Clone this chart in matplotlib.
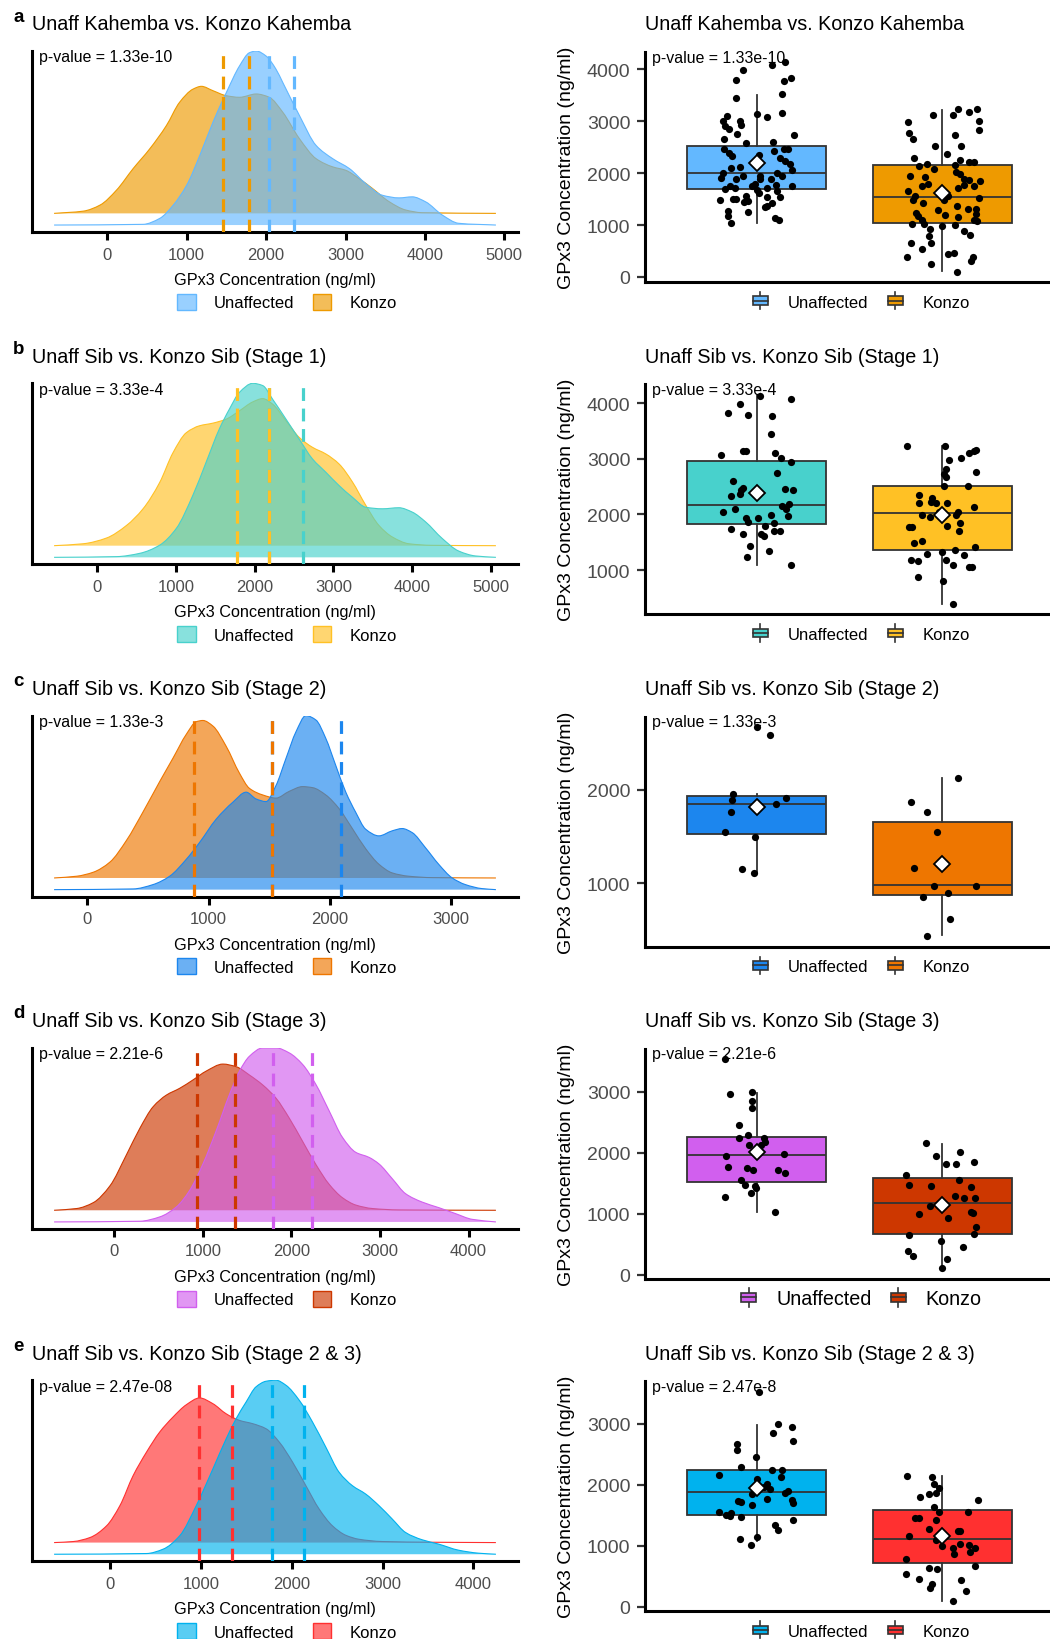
import numpy as np
import matplotlib
matplotlib.use('Agg')
import matplotlib.pyplot as plt
from matplotlib.patches import Patch, Rectangle, PathPatch
from matplotlib.path import Path
from matplotlib.lines import Line2D
from matplotlib.legend_handler import HandlerBase
from matplotlib.ticker import MultipleLocator

plt.rcParams['font.family'] = ['Liberation Sans', 'DejaVu Sans']

# ---------------- data ----------------
titles = ['Unaff Kahemba vs. Konzo Kahemba',
          'Unaff Sib vs. Konzo Sib (Stage 1)',
          'Unaff Sib vs. Konzo Sib (Stage 2)',
          'Unaff Sib vs. Konzo Sib (Stage 3)',
          'Unaff Sib vs. Konzo Sib (Stage 2 & 3)']
letters = ['a', 'b', 'c', 'd', 'e']
pval_left = ['p-value = 1.33e-10', 'p-value = 3.33e-4', 'p-value = 1.33e-3',
             'p-value = 2.21e-6', 'p-value = 2.47e-08']
pval_right = ['p-value = 1.33e-10', 'p-value = 3.33e-4', 'p-value = 1.33e-3',
              'p-value = 2.21e-6', 'p-value = 2.47e-8']
groups = ['Unaffected', 'Konzo']
unaff_colors = ['#63B8FF', '#48D1CC', '#1C86EE', '#D15FEE', '#00B2EE']
konzo_colors = ['#EE9A00', '#FFC125', '#EE7600', '#CD3700', '#FF3030']

# density curves (scaled density, tallest peak = 1)
a_unaff_x = [-670, 450, 660, 830, 1000, 1165, 1330, 1500, 1665, 1790, 1875, 2000, 2125, 2210, 2420,
             2630, 2840, 3050, 3255, 3465, 3675, 3840, 4010, 4220, 4425, 4894]
a_unaff_h = [0, 0.004, 0.038, 0.114, 0.229, 0.40, 0.59, 0.762, 0.914, 0.99, 1.0, 0.971, 0.895, 0.819,
             0.629, 0.457, 0.381, 0.324, 0.238, 0.171, 0.156, 0.162, 0.133, 0.057, 0.01, 0]
a_konzo_x = [-670, -300, -90, 115, 325, 535, 745, 910, 1080, 1185, 1330, 1500, 1665, 1875, 2040, 2210,
             2420, 2630, 2840, 3000, 3170, 3340, 3550, 3760, 3965, 4894]
a_konzo_h = [0, 0.013, 0.048, 0.133, 0.257, 0.371, 0.505, 0.638, 0.714, 0.73, 0.705, 0.676, 0.667, 0.686,
             0.667, 0.581, 0.429, 0.314, 0.267, 0.248, 0.2, 0.143, 0.067, 0.019, 0.004, 0]

b_unaff_x = [-548, 245, 540, 793, 1004, 1215, 1384, 1553, 1680, 1806, 1975, 2101, 2228, 2397, 2565, 2734,
             2903, 3072, 3241, 3409, 3620, 3831, 4000, 4169, 4380, 4591, 4802, 5063]
b_unaff_h = [0, 0.004, 0.023, 0.07, 0.166, 0.357, 0.548, 0.74, 0.853, 0.948, 1.0, 0.987, 0.908, 0.794,
             0.679, 0.565, 0.489, 0.412, 0.345, 0.288, 0.279, 0.285, 0.26, 0.204, 0.109, 0.036, 0.008, 0]
b_konzo_x = [-548, -177, 118, 371, 582, 793, 962, 1131, 1300, 1468, 1637, 1806, 1975, 2101, 2228, 2397,
             2565, 2734, 2903, 3072, 3241, 3409, 3578, 3747, 3958, 4253, 5063]
b_konzo_h = [0, 0.011, 0.044, 0.116, 0.212, 0.363, 0.534, 0.649, 0.689, 0.704, 0.727, 0.775, 0.826, 0.845,
             0.813, 0.718, 0.622, 0.565, 0.527, 0.469, 0.366, 0.233, 0.116, 0.05, 0.011, 0.002, 0]

c_unaff_x = [-274, 378, 542, 679, 816, 926, 1063, 1200, 1310, 1392, 1474, 1556, 1638, 1721, 1803, 1885,
             1967, 2049, 2132, 2214, 2296, 2405, 2515, 2597, 2679, 2789, 2899, 3008, 3118, 3255, 3370]
c_unaff_h = [0, 0.004, 0.029, 0.077, 0.174, 0.271, 0.405, 0.502, 0.56, 0.521, 0.506, 0.598, 0.753, 0.907,
             1.0, 0.975, 0.869, 0.714, 0.56, 0.444, 0.347, 0.309, 0.338, 0.351, 0.328, 0.241, 0.145,
             0.068, 0.029, 0.006, 0]
c_konzo_x = [-274, -88, 49, 186, 323, 460, 597, 707, 816, 899, 953, 1036, 1145, 1255, 1337, 1447, 1556,
             1666, 1775, 1858, 1967, 2077, 2186, 2296, 2405, 2515, 2652, 2844, 3370]
c_konzo_h = [0, 0.01, 0.033, 0.091, 0.216, 0.38, 0.554, 0.689, 0.825, 0.898, 0.905, 0.873, 0.757, 0.602,
             0.515, 0.477, 0.459, 0.498, 0.525, 0.519, 0.477, 0.398, 0.284, 0.168, 0.079, 0.029, 0.01,
             0.002, 0]

d_unaff_x = [-679, 289, 514, 701, 851, 1001, 1151, 1301, 1414, 1526, 1676, 1826, 1976, 2126, 2276, 2426,
             2576, 2726, 2876, 2989, 3139, 3289, 3476, 3664, 3851, 4039, 4308]
d_unaff_h = [0, 0.004, 0.029, 0.086, 0.181, 0.333, 0.524, 0.733, 0.867, 0.952, 1.0, 1.0, 0.971, 0.905,
             0.79, 0.638, 0.486, 0.4, 0.371, 0.333, 0.248, 0.162, 0.114, 0.082, 0.048, 0.015, 0]
d_konzo_x = [-679, -424, -236, -49, 139, 289, 439, 589, 739, 889, 1039, 1226, 1376, 1526, 1676, 1826,
             1976, 2126, 2276, 2426, 2576, 2726, 2914, 3214, 4308]
d_konzo_h = [0, 0.01, 0.044, 0.14, 0.32, 0.471, 0.595, 0.662, 0.701, 0.749, 0.8, 0.84, 0.825, 0.777,
             0.72, 0.644, 0.529, 0.396, 0.263, 0.149, 0.072, 0.03, 0.01, 0.002, 0]

e_unaff_x = [-614, 402, 585, 768, 950, 1133, 1279, 1389, 1499, 1608, 1718, 1827, 1937, 2083, 2229, 2376,
             2522, 2668, 2814, 2961, 3107, 3253, 3436, 3618, 3838, 4057, 4247]
e_unaff_h = [0, 0.004, 0.029, 0.106, 0.279, 0.49, 0.663, 0.779, 0.875, 0.962, 0.994, 1.0, 0.971, 0.885,
             0.76, 0.615, 0.471, 0.394, 0.346, 0.279, 0.202, 0.125, 0.083, 0.058, 0.023, 0.006, 0]
e_konzo_x = [-614, -402, -219, -37, 110, 256, 402, 548, 694, 841, 987, 1133, 1279, 1425, 1572, 1718,
             1864, 2010, 2156, 2303, 2449, 2595, 2741, 2997, 3545, 4247]
e_konzo_h = [0, 0.006, 0.029, 0.096, 0.212, 0.385, 0.519, 0.635, 0.721, 0.792, 0.831, 0.798, 0.74, 0.702,
             0.683, 0.654, 0.577, 0.462, 0.327, 0.192, 0.096, 0.042, 0.019, 0.006, 0.002, 0]

# 95% CI of the mean (dashed lines)
unaff_ci = [[2042, 2347], [2177, 2616], [1521, 2096], [1789, 2227], [1780, 2131]]
konzo_ci = [[1456, 1782], [1776, 2186], [877, 1521], [934, 1365], [980, 1341]]

# box stats: whisker low, q1, median, q3, whisker high
unaff_box = [[1038, 1688, 2006, 2529, 3503], [1094, 1826, 2169, 2954, 4148], [1113, 1528, 1848, 1936, 1954],
             [1033, 1522, 1957, 2255, 2984], [1074, 1508, 1877, 2241, 2973]]
konzo_box = [[108, 1038, 1541, 2159, 3217], [397, 1360, 2033, 2511, 3232], [440, 872, 979, 1656, 2124],
             [103, 663, 1179, 1576, 2141], [98, 722, 1112, 1590, 2143]]
unaff_mean = [2197, 2393, 1816, 2011, 1942]
konzo_mean = [1624, 1992, 1202, 1141, 1156]

# individual measurements and their horizontal jitter
a_unaff_v = [3983, 3792, 4078, 4130, 3773, 3824, 3454, 3524, 3135, 3078, 3148, 3103, 2995, 2912, 3007, 2931,
             2848, 2753, 2727, 2663, 2581, 2600, 2472, 2472, 2434, 2472, 2390, 2326, 2358, 2294, 2230, 2166,
             2103, 2122, 2007, 1911, 1879, 1943, 1943, 2007, 1943, 2052, 1752, 1752, 1701, 1707, 1784, 1676,
             1720, 1765, 1879, 1657, 1510, 1561, 1479, 1498, 1466, 1453, 1542, 1625, 1549, 1338, 1415, 1358,
             1275, 1166, 1243, 1032, 1134, 1102, 1879, 1752]
a_unaff_j = [-0.075, -0.111, 0.083, 0.154, 0.147, 0.183, -0.108, 0.138, 0.004, 0.057, 0.136, -0.16, -0.183,
             -0.167, -0.09, -0.084, -0.147, -0.106, 0.201, -0.174, -0.057, 0.086, 0.147, 0.171, 0.092, -0.174,
             -0.147, -0.133, 0.014, 0.127, 0.153, 0.178, -0.136, -0.09, -0.183, -0.189, -0.111, -0.072, 0.018,
             0.108, 0.135, 0.192, 0.189, -0.142, -0.169, -0.118, -0.009, 0.004, 0.056, 0.104, 0.077, 0.108,
             -0.108, -0.057, -0.197, -0.124, -0.048, -0.066, 0.057, 0.014, 0.126, 0.048, 0.081, 0.057, -0.153,
             -0.156, -0.048, -0.14, 0.101, 0.122, 0.018, -0.022]
a_konzo_v = [3123, 3123, 3237, 3168, 3231, 3008, 2823, 2983, 2772, 2664, 2740, 2517, 2517, 2370, 2294, 2249,
             2217, 2217, 2166, 2134, 2147, 2070, 2019, 1943, 1930, 1975, 1879, 1866, 1847, 1752, 1783, 1707,
             1771, 1752, 1656, 1560, 1477, 1420, 1477, 1560, 1528, 1292, 1241, 1177, 1094, 1190, 1369, 1164,
             1318, 1318, 1209, 1100, 1081, 1017, 1017, 973, 998, 922, 781, 890, 807, 654, 654, 539, 392, 443,
             463, 392, 303, 252, 105]
a_konzo_j = [-0.052, 0.059, 0.081, 0.145, 0.185, 0.194, 0.194, -0.187, -0.18, -0.16, 0.065, -0.039, 0.1,
             0.023, -0.151, 0.093, 0.144, 0.172, -0.083, -0.126, 0.068, -0.043, 0.072, -0.174, -0.093, 0.097,
             0.118, 0.144, 0.201, -0.111, -0.079, 0.086, 0.118, 0.167, -0.187, -0.147, -0.16, -0.102, 0.011,
             0.032, 0.194, -0.025, -0.144, -0.129, -0.108, 0.014, 0.077, 0.083, 0.14, 0.18, 0.181, 0.167,
             0.187, -0.165, -0.101, 0.0, 0.068, -0.066, -0.075, 0.118, 0.149, -0.169, -0.063, -0.108, -0.19,
             0.032, 0.063, 0.162, 0.154, -0.061, 0.077]

b_unaff_v = [4130, 3982, 4071, 3817, 3793, 3764, 3451, 3073, 3143, 3143, 3096, 3014, 2937, 2742, 2600, 2482,
             2334, 2376, 2435, 2039, 2092, 1944, 1862, 1933, 1785, 1856, 2464, 2446, 2151, 2098, 2187, 1974,
             1992, 1744, 1643, 1655, 1608, 1696, 1696, 1442, 1348, 1236, 1088]
b_unaff_j = [0.018, -0.09, 0.183, -0.156, -0.045, 0.081, 0.077, -0.189, -0.072, -0.059, 0.099, 0.131, 0.185,
             0.108, -0.126, -0.072, -0.135, -0.09, -0.081, -0.18, -0.117, -0.057, -0.048, 0.009, 0.045, 0.095,
             0.153, 0.197, 0.135, 0.156, 0.176, 0.171, 0.077, -0.138, -0.072, 0.023, 0.041, 0.095, 0.126,
             -0.036, 0.068, -0.05, 0.183]
b_konzo_v = [3232, 3232, 2978, 3008, 3102, 3143, 3155, 2819, 2718, 2671, 2760, 2511, 2511, 2358, 2210, 2287,
             2228, 2198, 2198, 1992, 1950, 2051, 2051, 1992, 2127, 1785, 1856, 1773, 1773, 1696, 1490, 1519,
             1419, 1300, 1330, 1371, 1265, 1176, 1165, 1176, 1094, 1058, 1064, 881, 810, 397]
b_konzo_j = [-0.189, 0.014, 0.036, 0.099, 0.144, 0.167, 0.18, 0.018, 0.009, 0.018, 0.183, 0.011, 0.136,
             -0.124, -0.124, -0.054, -0.061, -0.036, 0.023, -0.111, -0.066, -0.018, 0.081, 0.074, 0.171, 0.023,
             0.095, -0.18, -0.162, 0.09, -0.151, -0.111, 0.174, -0.084, 0.0, 0.065, 0.117, -0.169, -0.129,
             0.018, 0.059, 0.145, 0.158, -0.133, 0.002, 0.059]

c_unaff_v = [2674, 2585, 1954, 1887, 1911, 1766, 1848, 1550, 1496, 1149, 1113]
c_unaff_j = [0.0, 0.072, -0.127, -0.131, 0.156, -0.135, 0.104, -0.171, -0.009, -0.079, -0.013]
c_konzo_v = [2124, 1869, 1766, 1546, 1163, 975, 968, 855, 894, 617, 433]
c_konzo_j = [0.086, -0.171, -0.083, -0.032, -0.153, -0.047, 0.181, -0.102, 0.032, 0.041, -0.084]

d_unaff_v = [3527, 2957, 2989, 2848, 2728, 2457, 2239, 2283, 2239, 2174, 2120, 2120, 1940, 1978, 1766, 1750,
             1707, 1723, 1658, 1549, 1462, 1451, 1413, 1342, 1272, 1033]
d_unaff_j = [-0.171, -0.145, -0.027, -0.023, -0.027, -0.097, -0.093, -0.045, 0.041, 0.045, 0.023, -0.039,
             -0.165, 0.145, -0.153, -0.054, -0.018, 0.113, 0.153, -0.081, -0.063, -0.009, -0.005, -0.031,
             -0.171, 0.099]
d_konzo_v = [2158, 1940, 2016, 1815, 1815, 1842, 1641, 1467, 1457, 1549, 1440, 1288, 1250, 1250, 1120, 1000,
             924, 1033, 1005, 783, 674, 652, 554, 457, 391, 310, 255, 103]
d_konzo_j = [-0.088, -0.036, 0.092, 0.018, 0.074, 0.172, -0.197, -0.178, -0.063, 0.09, 0.151, 0.068, 0.115,
             0.176, -0.066, -0.126, 0.032, 0.153, 0.163, 0.18, 0.169, -0.18, -0.009, 0.11, -0.187, -0.156,
             0.023, 0.0]

e_unaff_v = [3526, 2989, 2946, 2848, 2718, 2664, 2577, 2447, 2295, 2241, 2241, 2159, 2121, 2089, 2013, 1969,
             1931, 1850, 1904, 1872, 1752, 1698, 1741, 1709, 1763, 1660, 1552, 1508, 1481, 1535, 1465, 1427,
             1345, 1264, 1112, 1145, 1020]
e_unaff_j = [0.014, 0.117, 0.189, 0.09, 0.194, -0.106, -0.106, -0.005, -0.081, 0.081, 0.135, -0.201, 0.131,
             0.0, 0.054, 0.041, 0.072, -0.027, 0.171, 0.153, 0.189, 0.194, -0.099, -0.084, 0.054, -0.027,
             -0.201, -0.162, -0.144, -0.135, -0.081, 0.197, 0.099, 0.117, -0.09, 0.004, -0.031]
e_konzo_v = [2148, 2121, 2013, 1942, 1807, 1845, 1861, 1752, 1633, 1546, 1546, 1454, 1454, 1427, 1280, 1248,
             1248, 1156, 1101, 993, 960, 1031, 1009, 966, 901, 667, 857, 776, 613, 640, 543, 450, 380, 309,
             434, 250, 98]
e_konzo_j = [-0.192, -0.057, -0.043, -0.016, -0.12, -0.072, -0.036, 0.189, -0.045, -0.016, 0.14, -0.147,
             -0.126, -0.036, -0.07, 0.083, 0.095, -0.178, -0.036, -0.004, 0.056, 0.095, 0.144, 0.176, 0.149,
             0.176, 0.063, -0.196, -0.027, -0.075, -0.196, -0.126, -0.054, -0.066, 0.099, 0.127, 0.056]

dens = [(a_unaff_x, a_unaff_h, a_konzo_x, a_konzo_h), (b_unaff_x, b_unaff_h, b_konzo_x, b_konzo_h),
        (c_unaff_x, c_unaff_h, c_konzo_x, c_konzo_h), (d_unaff_x, d_unaff_h, d_konzo_x, d_konzo_h),
        (e_unaff_x, e_unaff_h, e_konzo_x, e_konzo_h)]
points = [(a_unaff_v, a_unaff_j, a_konzo_v, a_konzo_j), (b_unaff_v, b_unaff_j, b_konzo_v, b_konzo_j),
          (c_unaff_v, c_unaff_j, c_konzo_v, c_konzo_j), (d_unaff_v, d_unaff_j, d_konzo_v, d_konzo_j),
          (e_unaff_v, e_unaff_j, e_konzo_v, e_konzo_j)]


def curve_path(x, y, base=None):
    # smooth (monotone cubic) bezier path through the read points
    x = np.asarray(x, float)
    y = np.asarray(y, float)
    h = np.diff(x)
    d = np.diff(y) / h
    m = np.zeros_like(x)
    m[0], m[-1] = d[0], d[-1]
    for i in range(1, len(x) - 1):
        if d[i - 1] * d[i] > 0:
            w1 = 2 * h[i] + h[i - 1]
            w2 = h[i] + 2 * h[i - 1]
            m[i] = (w1 + w2) / (w1 / d[i - 1] + w2 / d[i])
    verts = [(x[0], y[0])]
    codes = [Path.MOVETO]
    for i in range(len(x) - 1):
        verts += [(x[i] + h[i] / 3, y[i] + m[i] * h[i] / 3),
                  (x[i + 1] - h[i] / 3, y[i + 1] - m[i + 1] * h[i] / 3),
                  (x[i + 1], y[i + 1])]
        codes += [Path.CURVE4] * 3
    if base is not None:
        verts += [(x[-1], base), (x[0], base), (x[0], y[0])]
        codes += [Path.LINETO, Path.LINETO, Path.CLOSEPOLY]
    return Path(verts, codes)


class BoxKey(HandlerBase):
    # little boxplot glyph for the legend, like ggplot's key
    def create_artists(self, legend, orig_handle, xdescent, ydescent, width, height, fontsize, trans):
        x0, y0 = -xdescent, -ydescent
        cx = x0 + width / 2
        bw, bh = width * 0.9, height * 0.7
        ec = '#333333'
        whisk = Line2D([cx, cx], [y0 - 0.2 * height, y0 + 1.2 * height], color=ec, lw=1.2, transform=trans)
        box = Rectangle((cx - bw / 2, y0 + (height - bh) / 2), bw, bh, facecolor=orig_handle.get_facecolor(),
                        edgecolor=ec, lw=1.2, transform=trans)
        med = Line2D([cx - bw / 2, cx + bw / 2], [y0 + height / 2] * 2, color=ec, lw=1.2, transform=trans)
        return [whisk, box, med]


W, H = 1050, 1640
ROW = 332.3
KBASE = 0.067     # konzo ridge sits a little above the unaffected one
TICKGREY = '#4D4D4D'

fig = plt.figure(figsize=(10.5, 16.4), dpi=100)

for k in range(5):
    off = ROW * k
    cu, ck = unaff_colors[k], konzo_colors[k]
    ux, uh, kx, kh = dens[k]
    uv, uj, kv, kj = points[k]

    # ---------- density panel ----------
    axL = fig.add_axes([32 / W, 1 - (233 + off) / H, 486 / W, 181 / H])
    ktop = np.array(kh) + KBASE
    axL.add_patch(PathPatch(curve_path(kx, ktop, KBASE), facecolor=ck, alpha=0.65, lw=0, zorder=1))
    axL.add_patch(PathPatch(curve_path(kx, ktop), fill=False, edgecolor=ck, lw=0.8, zorder=1.1))
    axL.add_patch(PathPatch(curve_path(ux, uh, 0), facecolor=cu, alpha=0.65, lw=0, zorder=2))
    axL.add_patch(PathPatch(curve_path(ux, uh), fill=False, edgecolor=cu, lw=0.8, zorder=2.1))
    for v in unaff_ci[k]:
        axL.axvline(v, color=cu, lw=2.3, ls=(0, (4, 2.4)), zorder=3)
    for v in konzo_ci[k]:
        axL.axvline(v, color=ck, lw=2.3, ls=(0, (4, 2.4)), zorder=3.1)
    lo, hi = min(ux + kx), max(ux + kx)
    pad = 0.05 * (hi - lo)
    axL.set_xlim(lo - pad, hi + pad)
    axL.set_ylim(-0.04, 1.0)
    axL.xaxis.set_major_locator(MultipleLocator(1000))
    axL.set_yticks([])
    for s in ['top', 'right']:
        axL.spines[s].set_visible(False)
    for s in ['left', 'bottom']:
        axL.spines[s].set_linewidth(2.2)
        axL.spines[s].set_color('black')
    axL.tick_params(axis='x', length=5.5, width=2.2, color='black', labelsize=12,
                    labelcolor=TICKGREY, pad=5)
    axL.set_xlabel('GPx3 Concentration (ng/ml)', fontsize=11.7)
    axL.xaxis.set_label_coords(0.5, (233 - 280.7) / 181)
    axL.xaxis.label.set_va('center')
    axL.text(0.0144, 0.967, pval_left[k], transform=axL.transAxes, fontsize=11.4, va='center', ha='left')

    fig.text(13 / W, 1 - (17 + off) / H, letters[k], fontsize=13.5, fontweight='bold', va='center', ha='left')
    fig.text(32 / W, 1 - (25 + off) / H, titles[k], fontsize=14.2, va='center', ha='left')

    lh = [Patch(facecolor=matplotlib.colors.to_rgba(c, 0.65), edgecolor=c, lw=1) for c in (cu, ck)]
    fig.legend(lh, groups, loc='center', bbox_to_anchor=(287 / W, 1 - (303 + off) / H), ncol=2,
               frameon=False, fontsize=12, handlelength=1.1, handleheight=1.1, handletextpad=1.1,
               columnspacing=1.1, borderpad=0, borderaxespad=0)

    # ---------- box panel ----------
    axR = fig.add_axes([645 / W, 1 - (283 + off) / H, 409 / W, 230 / H])
    stats = []
    for b in (unaff_box[k], konzo_box[k]):
        stats.append(dict(whislo=b[0], q1=b[1], med=b[2], q3=b[3], whishi=b[4], fliers=[]))
    bp = axR.bxp(stats, positions=[1, 2], widths=0.75, patch_artist=True, showcaps=False, showfliers=False,
                 boxprops=dict(edgecolor='#333333', lw=1.3),
                 whiskerprops=dict(color='#333333', lw=1.3),
                 medianprops=dict(color='#333333', lw=1.3))
    for patch, c in zip(bp['boxes'], (cu, ck)):
        patch.set_facecolor(c)
    axR.scatter(1 + np.array(uj), uv, s=27, c='black', lw=0, zorder=3)
    axR.scatter(2 + np.array(kj), kv, s=27, c='black', lw=0, zorder=3)
    axR.plot([1, 2], [unaff_mean[k], konzo_mean[k]], 'D', ls='none', ms=8.5, mfc='white', mec='black',
             mew=1.3, zorder=4)
    allv = uv + kv + unaff_box[k] + konzo_box[k]
    lo, hi = min(allv), max(allv)
    pad = 0.05 * (hi - lo)
    axR.set_ylim(lo - pad, hi + pad)
    axR.set_xlim(0.4, 2.6)
    axR.yaxis.set_major_locator(MultipleLocator(1000))
    axR.set_xticks([])
    for s in ['top', 'right']:
        axR.spines[s].set_visible(False)
    for s in ['left', 'bottom']:
        axR.spines[s].set_linewidth(2.2)
        axR.spines[s].set_color('black')
    axR.tick_params(axis='y', length=5.5, width=1.6, color='#333333', labelsize=14,
                    labelcolor=TICKGREY, pad=5)
    axR.set_ylabel('GPx3 Concentration (ng/ml)', fontsize=14)
    axR.yaxis.set_label_coords((566.7 - 645) / 409, 0.5)
    axR.yaxis.label.set_va('center')
    axR.text(0.0164, 0.978, pval_right[k], transform=axR.transAxes, fontsize=11.4, va='center', ha='left')
    fig.text(645 / W, 1 - (25 + off) / H, titles[k], fontsize=14.2, va='center', ha='left')

    rh = [Patch(facecolor=c) for c in (cu, ck)]
    fs = 14.2 if k == 3 else 12
    fig.legend(rh, groups, loc='center', bbox_to_anchor=(861 / W, 1 - (303 + off) / H), ncol=2,
               frameon=False, fontsize=fs, handlelength=1.0 * 12 / fs, handleheight=0.75 * 12 / fs,
               handletextpad=1.15 * 12 / fs, columnspacing=1.1 * 12 / fs, borderpad=0, borderaxespad=0,
               handler_map={Patch: BoxKey()})

fig.savefig('out.png', dpi=100)
